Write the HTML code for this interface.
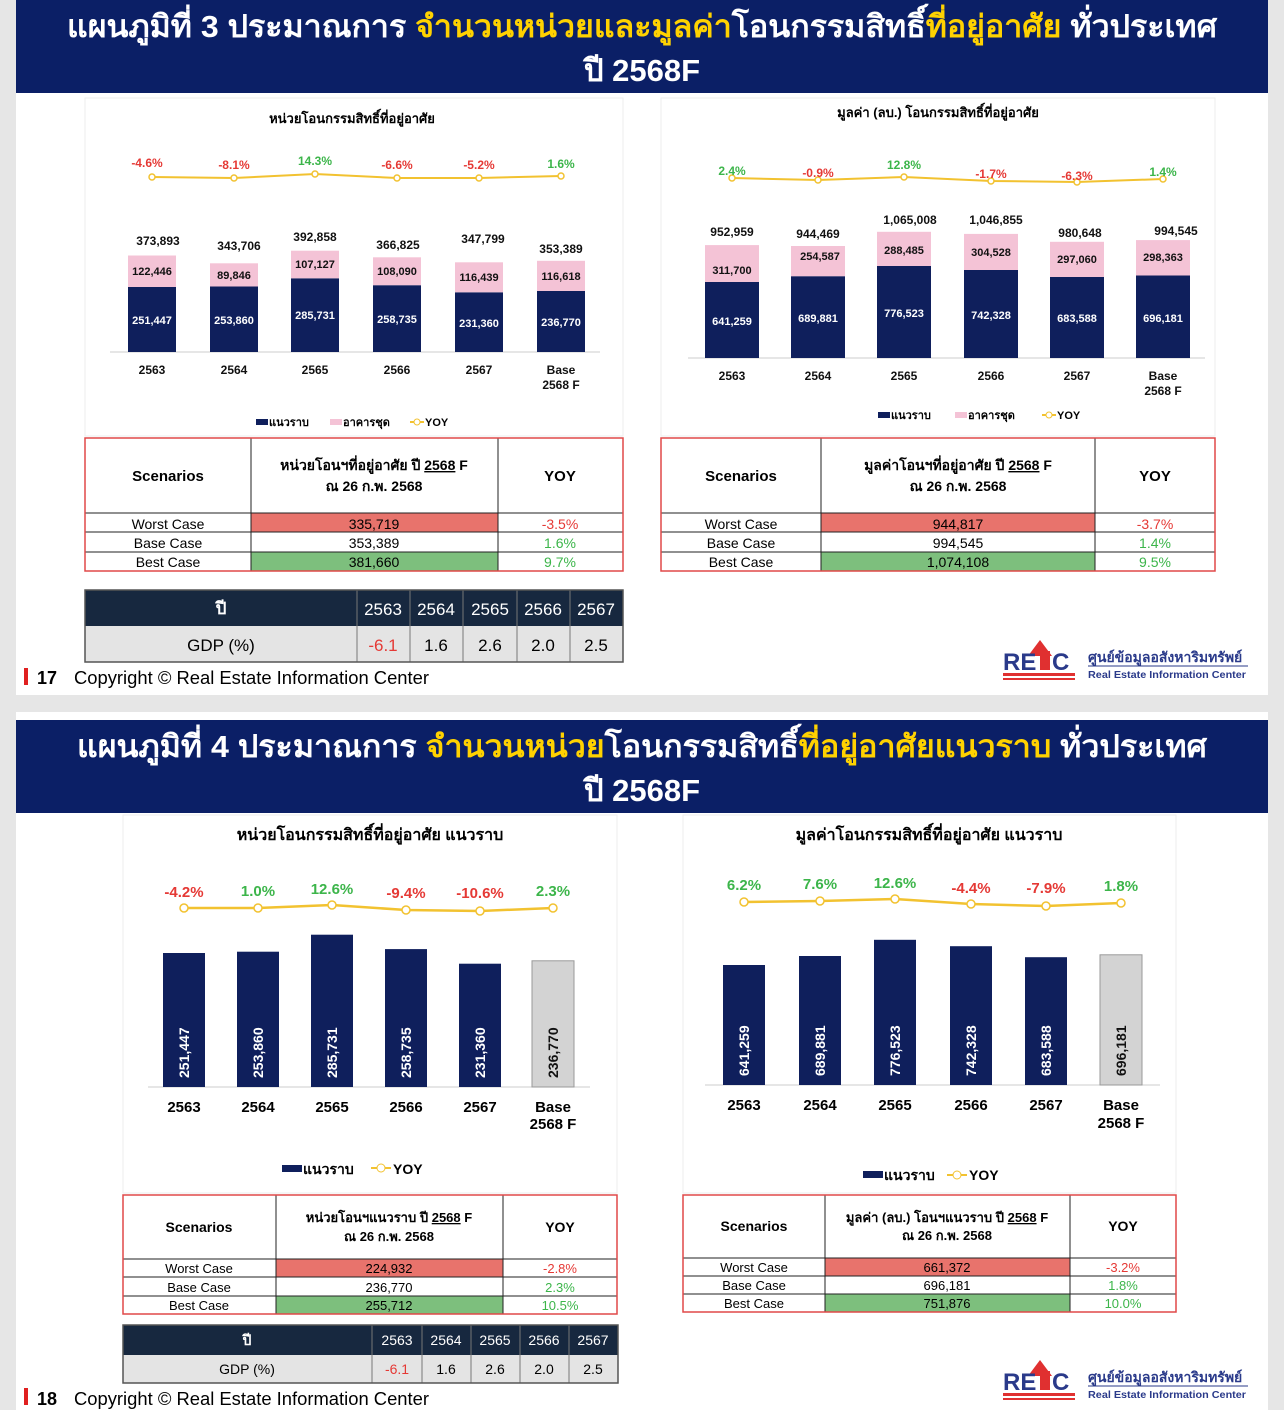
<!DOCTYPE html>
<html><head><meta charset="utf-8"><style>
body{margin:0;background:#e6e6e6;}
svg{display:block;font-family:"Liberation Sans","DejaVu Sans",sans-serif;}
.b{font-weight:bold}
</style></head><body>
<svg width="1284" height="1410" viewBox="0 0 1284 1410" xmlns="http://www.w3.org/2000/svg">
<rect width="1284" height="1410" fill="#e6e6e6"/>
<!-- SLIDE 1 -->
<rect x="16" y="0" width="1252" height="695" fill="#fff"/>
<rect x="16" y="0" width="1252" height="93" fill="#0b1f66"/>
<text x="642" y="37" text-anchor="middle" font-size="31" class="b" fill="#fff" textLength="1150" lengthAdjust="spacingAndGlyphs">แผนภูมิที่ 3 ประมาณการ <tspan fill="#ffd200">จำนวนหน่วยและมูลค่า</tspan>โอนกรรมสิทธิ์<tspan fill="#ffd200">ที่อยู่อาศัย</tspan> ทั่วประเทศ</text>
<text x="642" y="81" text-anchor="middle" font-size="31" class="b" fill="#fff">ปี 2568F</text>
<rect x="85" y="98" width="538" height="338" fill="#fff" stroke="#eee"/>
<rect x="661" y="98" width="554" height="338" fill="#fff" stroke="#eee"/>
<text x="352" y="123" text-anchor="middle" font-size="13" class="b">หน่วยโอนกรรมสิทธิ์ที่อยู่อาศัย</text>
<text x="938" y="117" text-anchor="middle" font-size="13" class="b">มูลค่า (ลบ.) โอนกรรมสิทธิ์ที่อยู่อาศัย</text>
<!-- chart1 -->
<g font-size="11" class="b" text-anchor="middle">
<line x1="110" y1="352" x2="600" y2="352" stroke="#ccc"/>
<g fill="#0f1f5c"><rect x="128" y="287" width="48" height="65"/><rect x="210" y="286.5" width="48" height="65.5"/><rect x="291" y="278.3" width="48" height="73.7"/><rect x="373" y="285.2" width="48" height="66.8"/><rect x="455" y="292.3" width="48" height="59.7"/><rect x="537" y="291" width="48" height="61"/></g>
<g fill="#f4c3d6"><rect x="128" y="255.5" width="48" height="31.5"/><rect x="210" y="263.3" width="48" height="23.2"/><rect x="291" y="250.7" width="48" height="27.6"/><rect x="373" y="257.3" width="48" height="27.9"/><rect x="455" y="262.3" width="48" height="30"/><rect x="537" y="260.8" width="48" height="30.2"/></g>
<g fill="#fff"><text x="152" y="324">251,447</text><text x="234" y="324">253,860</text><text x="315" y="319">285,731</text><text x="397" y="323">258,735</text><text x="479" y="327">231,360</text><text x="561" y="326">236,770</text></g>
<g fill="#111"><text x="152" y="275">122,446</text><text x="234" y="279">89,846</text><text x="315" y="268">107,127</text><text x="397" y="275">108,090</text><text x="479" y="281">116,439</text><text x="561" y="280">116,618</text>
<text x="158" y="245" font-size="12">373,893</text><text x="239" y="250" font-size="12">343,706</text><text x="315" y="241" font-size="12">392,858</text><text x="398" y="249" font-size="12">366,825</text><text x="483" y="243" font-size="12">347,799</text><text x="561" y="253" font-size="12">353,389</text>
<text x="152" y="374" font-size="12">2563</text><text x="234" y="374" font-size="12">2564</text><text x="315" y="374" font-size="12">2565</text><text x="397" y="374" font-size="12">2566</text><text x="479" y="374" font-size="12">2567</text><text x="561" y="374" font-size="12">Base</text><text x="561" y="389" font-size="12">2568 F</text></g>
<polyline points="152,177 234,178 315,174 397,178 479,178 561,176" fill="none" stroke="#f2c230" stroke-width="2"/>
<g fill="#fff" stroke="#f2c230" stroke-width="1.5"><circle cx="152" cy="177" r="3"/><circle cx="234" cy="178" r="3"/><circle cx="315" cy="174" r="3"/><circle cx="397" cy="178" r="3"/><circle cx="479" cy="178" r="3"/><circle cx="561" cy="176" r="3"/></g>
<g font-size="12"><text x="147" y="167" fill="#e53935">-4.6%</text><text x="234" y="169" fill="#e53935">-8.1%</text><text x="315" y="165" fill="#3cb54a">14.3%</text><text x="397" y="169" fill="#e53935">-6.6%</text><text x="479" y="169" fill="#e53935">-5.2%</text><text x="561" y="168" fill="#3cb54a">1.6%</text></g>
</g>
<g font-size="11" class="b"><rect x="256" y="419" width="12" height="6" fill="#0f1f5c"/><text x="269" y="426">แนวราบ</text><rect x="330" y="419" width="12" height="6" fill="#f4c3d6"/><text x="343" y="426">อาคารชุด</text><line x1="410" y1="422" x2="424" y2="422" stroke="#f2c230" stroke-width="2"/><circle cx="417" cy="422" r="3" fill="#fff" stroke="#f2c230"/><text x="425" y="426">YOY</text></g>
<!-- chart2 -->
<g font-size="11" class="b" text-anchor="middle">
<line x1="688" y1="358" x2="1205" y2="358" stroke="#ccc"/>
<g fill="#0f1f5c"><rect x="705" y="282" width="54" height="76"/><rect x="791" y="276.2" width="54" height="81.8"/><rect x="877" y="266" width="54" height="92"/><rect x="964" y="270" width="54" height="88"/><rect x="1050" y="277" width="54" height="81"/><rect x="1136" y="275.5" width="54" height="82.5"/></g>
<g fill="#f4c3d6"><rect x="705" y="245.1" width="54" height="36.9"/><rect x="791" y="246" width="54" height="30.2"/><rect x="877" y="231.8" width="54" height="34.2"/><rect x="964" y="233.9" width="54" height="36.1"/><rect x="1050" y="241.8" width="54" height="35.2"/><rect x="1136" y="240.1" width="54" height="35.4"/></g>
<g fill="#fff"><text x="732" y="325">641,259</text><text x="818" y="322">689,881</text><text x="904" y="317">776,523</text><text x="991" y="319">742,328</text><text x="1077" y="322">683,588</text><text x="1163" y="322">696,181</text></g>
<g fill="#111"><text x="732" y="274">311,700</text><text x="820" y="260">254,587</text><text x="904" y="254">288,485</text><text x="991" y="256">304,528</text><text x="1077" y="263">297,060</text><text x="1163" y="261">298,363</text>
<text x="732" y="236" font-size="12">952,959</text><text x="818" y="238" font-size="12">944,469</text><text x="910" y="224" font-size="12">1,065,008</text><text x="996" y="224" font-size="12">1,046,855</text><text x="1080" y="237" font-size="12">980,648</text><text x="1176" y="235" font-size="12">994,545</text>
<text x="732" y="380" font-size="12">2563</text><text x="818" y="380" font-size="12">2564</text><text x="904" y="380" font-size="12">2565</text><text x="991" y="380" font-size="12">2566</text><text x="1077" y="380" font-size="12">2567</text><text x="1163" y="380" font-size="12">Base</text><text x="1163" y="395" font-size="12">2568 F</text></g>
<polyline points="732,178 818,180 904,177 991,181 1077,182 1163,179" fill="none" stroke="#f2c230" stroke-width="2"/>
<g fill="#fff" stroke="#f2c230" stroke-width="1.5"><circle cx="732" cy="178" r="3"/><circle cx="818" cy="180" r="3"/><circle cx="904" cy="177" r="3"/><circle cx="991" cy="181" r="3"/><circle cx="1077" cy="182" r="3"/><circle cx="1163" cy="179" r="3"/></g>
<g font-size="12"><text x="732" y="175" fill="#3cb54a">2.4%</text><text x="818" y="177" fill="#e53935">-0.9%</text><text x="904" y="169" fill="#3cb54a">12.8%</text><text x="991" y="178" fill="#e53935">-1.7%</text><text x="1077" y="180" fill="#e53935">-6.3%</text><text x="1163" y="176" fill="#3cb54a">1.4%</text></g>
</g>
<g font-size="11" class="b"><rect x="878" y="412" width="12" height="6" fill="#0f1f5c"/><text x="891" y="419">แนวราบ</text><rect x="955" y="412" width="12" height="6" fill="#f4c3d6"/><text x="968" y="419">อาคารชุด</text><line x1="1042" y1="415" x2="1056" y2="415" stroke="#f2c230" stroke-width="2"/><circle cx="1049" cy="415" r="3" fill="#fff" stroke="#f2c230"/><text x="1057" y="419">YOY</text></g>
<!-- table1 left -->
<g font-size="14" text-anchor="middle">
<rect x="251" y="513" width="247" height="19" fill="#e8736c"/><rect x="251" y="552" width="247" height="19" fill="#7dbf7d"/>
<g stroke="#222" stroke-width="1" fill="none"><line x1="85" y1="513" x2="623" y2="513"/><line x1="85" y1="532" x2="623" y2="532"/><line x1="85" y1="552" x2="623" y2="552"/><line x1="251" y1="438" x2="251" y2="571"/><line x1="498" y1="438" x2="498" y2="571"/></g>
<rect x="85" y="438" width="538" height="133" fill="none" stroke="#e04848" stroke-width="1.5"/>
<text x="168" y="481" class="b" font-size="15">Scenarios</text><text x="374" y="470" class="b" font-size="14">หน่วยโอนฯที่อยู่อาศัย ปี <tspan text-decoration="underline">2568</tspan> F</text><text x="374" y="491" class="b" font-size="14">ณ 26 ก.พ. 2568</text><text x="560" y="481" class="b" font-size="15">YOY</text>
<text x="168" y="529">Worst Case</text><text x="374" y="529">335,719</text><text x="560" y="529" fill="#e53935">-3.5%</text>
<text x="168" y="548">Base Case</text><text x="374" y="548">353,389</text><text x="560" y="548" fill="#3cb54a">1.6%</text>
<text x="168" y="567">Best Case</text><text x="374" y="567">381,660</text><text x="560" y="567" fill="#3cb54a">9.7%</text>
</g>
<!-- table1 right -->
<g font-size="14" text-anchor="middle">
<rect x="821" y="513" width="274" height="19" fill="#e8736c"/><rect x="821" y="552" width="274" height="19" fill="#7dbf7d"/>
<g stroke="#222" fill="none"><line x1="661" y1="513" x2="1215" y2="513"/><line x1="661" y1="532" x2="1215" y2="532"/><line x1="661" y1="552" x2="1215" y2="552"/><line x1="821" y1="438" x2="821" y2="571"/><line x1="1095" y1="438" x2="1095" y2="571"/></g>
<rect x="661" y="438" width="554" height="133" fill="none" stroke="#e04848" stroke-width="1.5"/>
<text x="741" y="481" class="b" font-size="15">Scenarios</text><text x="958" y="470" class="b" font-size="14">มูลค่าโอนฯที่อยู่อาศัย ปี <tspan text-decoration="underline">2568</tspan> F</text><text x="958" y="491" class="b" font-size="14">ณ 26 ก.พ. 2568</text><text x="1155" y="481" class="b" font-size="15">YOY</text>
<text x="741" y="529">Worst Case</text><text x="958" y="529">944,817</text><text x="1155" y="529" fill="#e53935">-3.7%</text>
<text x="741" y="548">Base Case</text><text x="958" y="548">994,545</text><text x="1155" y="548" fill="#3cb54a">1.4%</text>
<text x="741" y="567">Best Case</text><text x="958" y="567">1,074,108</text><text x="1155" y="567" fill="#3cb54a">9.5%</text>
</g>
<!-- GDP1 -->
<g font-size="17" text-anchor="middle">
<rect x="85" y="590" width="538" height="36" fill="#17283f"/><rect x="85" y="626" width="538" height="36" fill="#e4e4e4"/>
<g stroke="#777" fill="none"><line x1="357" y1="590" x2="357" y2="662"/><line x1="410" y1="590" x2="410" y2="662"/><line x1="463" y1="590" x2="463" y2="662"/><line x1="517" y1="590" x2="517" y2="662"/><line x1="570" y1="590" x2="570" y2="662"/><rect x="85" y="590" width="538" height="72" stroke="#555" stroke-width="1.5"/></g>
<g fill="#fff"><text x="221" y="614" class="b">ปี</text><text x="383" y="615">2563</text><text x="436" y="615">2564</text><text x="490" y="615">2565</text><text x="543" y="615">2566</text><text x="596" y="615">2567</text></g>
<text x="221" y="651">GDP (%)</text><text x="383" y="651" fill="#e53935">-6.1</text><text x="436" y="651">1.6</text><text x="490" y="651">2.6</text><text x="543" y="651">2.0</text><text x="596" y="651">2.5</text>
</g>
<rect x="24" y="668" width="4" height="17" fill="#e02020"/>
<text x="37" y="684" font-size="18" class="b">17</text><text x="74" y="684" font-size="18" textLength="355" lengthAdjust="spacingAndGlyphs">Copyright © Real Estate Information Center</text>
<g><path d="M1028 656 L1040 640 L1052 656 Z" fill="#e03030"/><text x="1003" y="670" font-size="24" class="b" fill="#2a3a8a">RE</text><rect x="1040" y="651" width="10" height="19" fill="#e03030"/><text x="1052" y="670" font-size="24" class="b" fill="#2a3a8a">C</text><rect x="1003" y="673" width="72" height="3" fill="#e03030"/><rect x="1003" y="678" width="72" height="2" fill="#e03030"/>
<text x="1088" y="662" font-size="14" class="b" fill="#2a3a8a">ศูนย์ข้อมูลอสังหาริมทรัพย์</text><line x1="1088" y1="666" x2="1248" y2="666" stroke="#2a3a8a"/><text x="1088" y="678" font-size="10" class="b" fill="#2a3a8a" textLength="158" lengthAdjust="spacingAndGlyphs">Real Estate Information Center</text></g>

<!-- SLIDE 2 -->
<rect x="16" y="712" width="1252" height="698" fill="#fff"/>
<rect x="16" y="720" width="1252" height="93" fill="#0b1f66"/>
<text x="642" y="757" text-anchor="middle" font-size="31" class="b" fill="#fff" textLength="1130" lengthAdjust="spacingAndGlyphs">แผนภูมิที่ 4 ประมาณการ <tspan fill="#ffd200">จำนวนหน่วย</tspan>โอนกรรมสิทธิ์<tspan fill="#ffd200">ที่อยู่อาศัยแนวราบ</tspan> ทั่วประเทศ</text>
<text x="642" y="801" text-anchor="middle" font-size="31" class="b" fill="#fff">ปี 2568F</text>
<rect x="123" y="815" width="494" height="378" fill="#fff" stroke="#eee"/>
<rect x="683" y="815" width="493" height="378" fill="#fff" stroke="#eee"/>
<text x="370" y="840" text-anchor="middle" font-size="16" class="b">หน่วยโอนกรรมสิทธิ์ที่อยู่อาศัย แนวราบ</text>
<text x="929" y="840" text-anchor="middle" font-size="16" class="b">มูลค่าโอนกรรมสิทธิ์ที่อยู่อาศัย แนวราบ</text>
<g font-size="14" class="b" text-anchor="middle">
<line x1="148" y1="1087" x2="590" y2="1087" stroke="#ccc"/>
<g fill="#0f1f5c"><rect x="163" y="953" width="42" height="134"/><rect x="237" y="951.7" width="42" height="135.3"/><rect x="311" y="934.7" width="42" height="152.3"/><rect x="385" y="949.1" width="42" height="137.9"/><rect x="459" y="963.7" width="42" height="123.3"/></g>
<rect x="532" y="960.8" width="42" height="126.2" fill="#d3d3d3" stroke="#999"/>
<g fill="#fff"><text transform="translate(189,1078) rotate(-90)" text-anchor="start">251,447</text><text transform="translate(263,1078) rotate(-90)" text-anchor="start">253,860</text><text transform="translate(337,1078) rotate(-90)" text-anchor="start">285,731</text><text transform="translate(411,1078) rotate(-90)" text-anchor="start">258,735</text><text transform="translate(485,1078) rotate(-90)" text-anchor="start">231,360</text></g>
<text transform="translate(558,1078) rotate(-90)" text-anchor="start" fill="#111">236,770</text>
<g font-size="15"><text x="184" y="1112">2563</text><text x="258" y="1112">2564</text><text x="332" y="1112">2565</text><text x="406" y="1112">2566</text><text x="480" y="1112">2567</text><text x="553" y="1112">Base</text><text x="553" y="1129">2568 F</text></g>
<polyline points="184,908 258,908 332,905 406,910 480,911 553,908" fill="none" stroke="#f2c230" stroke-width="2.5"/>
<g fill="#fff" stroke="#f2c230" stroke-width="1.5"><circle cx="184" cy="908" r="4"/><circle cx="258" cy="908" r="4"/><circle cx="332" cy="905" r="4"/><circle cx="406" cy="910" r="4"/><circle cx="480" cy="911" r="4"/><circle cx="553" cy="908" r="4"/></g>
<g font-size="15"><text x="184" y="897" fill="#e53935">-4.2%</text><text x="258" y="896" fill="#3cb54a">1.0%</text><text x="332" y="894" fill="#3cb54a">12.6%</text><text x="406" y="898" fill="#e53935">-9.4%</text><text x="480" y="898" fill="#e53935">-10.6%</text><text x="553" y="896" fill="#3cb54a">2.3%</text></g>
</g>
<g font-size="14" class="b"><rect x="282" y="1165" width="20" height="7" fill="#0f1f5c"/><text x="303" y="1174">แนวราบ</text><line x1="371" y1="1168" x2="391" y2="1168" stroke="#f2c230" stroke-width="2"/><circle cx="381" cy="1168" r="4" fill="#fff" stroke="#f2c230"/><text x="393" y="1174">YOY</text></g>
<g font-size="14" class="b" text-anchor="middle">
<line x1="705" y1="1085" x2="1160" y2="1085" stroke="#ccc"/>
<g fill="#0f1f5c"><rect x="723" y="965" width="42" height="120"/><rect x="799" y="956" width="42" height="129"/><rect x="874" y="939.8" width="42" height="145.2"/><rect x="950" y="946.2" width="42" height="138.8"/><rect x="1025" y="957.2" width="42" height="127.8"/></g>
<rect x="1100" y="954.8" width="42" height="130.2" fill="#d3d3d3" stroke="#999"/>
<g fill="#fff"><text transform="translate(749,1076) rotate(-90)" text-anchor="start">641,259</text><text transform="translate(825,1076) rotate(-90)" text-anchor="start">689,881</text><text transform="translate(900,1076) rotate(-90)" text-anchor="start">776,523</text><text transform="translate(976,1076) rotate(-90)" text-anchor="start">742,328</text><text transform="translate(1051,1076) rotate(-90)" text-anchor="start">683,588</text></g>
<text transform="translate(1126,1076) rotate(-90)" text-anchor="start" fill="#111">696,181</text>
<g font-size="15"><text x="744" y="1110">2563</text><text x="820" y="1110">2564</text><text x="895" y="1110">2565</text><text x="971" y="1110">2566</text><text x="1046" y="1110">2567</text><text x="1121" y="1110">Base</text><text x="1121" y="1128">2568 F</text></g>
<polyline points="744,902 820,901 895,899 971,904 1046,906 1121,903" fill="none" stroke="#f2c230" stroke-width="2.5"/>
<g fill="#fff" stroke="#f2c230" stroke-width="1.5"><circle cx="744" cy="902" r="4"/><circle cx="820" cy="901" r="4"/><circle cx="895" cy="899" r="4"/><circle cx="971" cy="904" r="4"/><circle cx="1046" cy="906" r="4"/><circle cx="1121" cy="903" r="4"/></g>
<g font-size="15"><text x="744" y="890" fill="#3cb54a">6.2%</text><text x="820" y="889" fill="#3cb54a">7.6%</text><text x="895" y="888" fill="#3cb54a">12.6%</text><text x="971" y="893" fill="#e53935">-4.4%</text><text x="1046" y="893" fill="#e53935">-7.9%</text><text x="1121" y="891" fill="#3cb54a">1.8%</text></g>
</g>
<g font-size="14" class="b"><rect x="863" y="1171" width="20" height="7" fill="#0f1f5c"/><text x="884" y="1180">แนวราบ</text><line x1="947" y1="1175" x2="967" y2="1175" stroke="#f2c230" stroke-width="2"/><circle cx="957" cy="1175" r="4" fill="#fff" stroke="#f2c230"/><text x="969" y="1180">YOY</text></g>
<!-- table2 left -->
<g font-size="13" text-anchor="middle">
<rect x="276" y="1259" width="227" height="18" fill="#e8736c"/><rect x="276" y="1296" width="227" height="18" fill="#7dbf7d"/>
<g stroke="#222" fill="none"><line x1="123" y1="1259" x2="617" y2="1259"/><line x1="123" y1="1277" x2="617" y2="1277"/><line x1="123" y1="1296" x2="617" y2="1296"/><line x1="276" y1="1195" x2="276" y2="1314"/><line x1="503" y1="1195" x2="503" y2="1314"/></g>
<rect x="123" y="1195" width="494" height="119" fill="none" stroke="#e04848" stroke-width="1.5"/>
<text x="199" y="1232" class="b" font-size="14">Scenarios</text><text x="389" y="1222" class="b">หน่วยโอนฯแนวราบ ปี <tspan text-decoration="underline">2568</tspan> F</text><text x="389" y="1241" class="b">ณ 26 ก.พ. 2568</text><text x="560" y="1232" class="b" font-size="14">YOY</text>
<text x="199" y="1273">Worst Case</text><text x="389" y="1273">224,932</text><text x="560" y="1273" fill="#e53935">-2.8%</text>
<text x="199" y="1292">Base Case</text><text x="389" y="1292">236,770</text><text x="560" y="1292" fill="#3cb54a">2.3%</text>
<text x="199" y="1310">Best Case</text><text x="389" y="1310">255,712</text><text x="560" y="1310" fill="#3cb54a">10.5%</text>
</g>
<g font-size="13" text-anchor="middle">
<rect x="825" y="1258" width="245" height="18" fill="#e8736c"/><rect x="825" y="1294" width="245" height="18" fill="#7dbf7d"/>
<g stroke="#222" fill="none"><line x1="683" y1="1258" x2="1176" y2="1258"/><line x1="683" y1="1276" x2="1176" y2="1276"/><line x1="683" y1="1294" x2="1176" y2="1294"/><line x1="825" y1="1195" x2="825" y2="1312"/><line x1="1070" y1="1195" x2="1070" y2="1312"/></g>
<rect x="683" y="1195" width="493" height="117" fill="none" stroke="#e04848" stroke-width="1.5"/>
<text x="754" y="1231" class="b" font-size="14">Scenarios</text><text x="947" y="1222" class="b">มูลค่า (ลบ.) โอนฯแนวราบ ปี <tspan text-decoration="underline">2568</tspan> F</text><text x="947" y="1240" class="b">ณ 26 ก.พ. 2568</text><text x="1123" y="1231" class="b" font-size="14">YOY</text>
<text x="754" y="1272">Worst Case</text><text x="947" y="1272">661,372</text><text x="1123" y="1272" fill="#e53935">-3.2%</text>
<text x="754" y="1290">Base Case</text><text x="947" y="1290">696,181</text><text x="1123" y="1290" fill="#3cb54a">1.8%</text>
<text x="754" y="1308">Best Case</text><text x="947" y="1308">751,876</text><text x="1123" y="1308" fill="#3cb54a">10.0%</text>
</g>
<g font-size="14" text-anchor="middle">
<rect x="123" y="1325" width="495" height="30" fill="#17283f"/><rect x="123" y="1355" width="495" height="28" fill="#e4e4e4"/>
<g stroke="#777" fill="none"><line x1="372" y1="1325" x2="372" y2="1383"/><line x1="422" y1="1325" x2="422" y2="1383"/><line x1="471" y1="1325" x2="471" y2="1383"/><line x1="520" y1="1325" x2="520" y2="1383"/><line x1="569" y1="1325" x2="569" y2="1383"/><rect x="123" y="1325" width="495" height="58" stroke="#555" stroke-width="1.5"/></g>
<g fill="#fff"><text x="247" y="1345" class="b">ปี</text><text x="397" y="1345">2563</text><text x="446" y="1345">2564</text><text x="495" y="1345">2565</text><text x="544" y="1345">2566</text><text x="593" y="1345">2567</text></g>
<text x="247" y="1374">GDP (%)</text><text x="397" y="1374" fill="#e53935">-6.1</text><text x="446" y="1374">1.6</text><text x="495" y="1374">2.6</text><text x="544" y="1374">2.0</text><text x="593" y="1374">2.5</text>
</g>
<rect x="24" y="1388" width="4" height="17" fill="#e02020"/>
<text x="37" y="1405" font-size="18" class="b">18</text><text x="74" y="1405" font-size="18" textLength="355" lengthAdjust="spacingAndGlyphs">Copyright © Real Estate Information Center</text>
<g><path d="M1028 1376 L1040 1360 L1052 1376 Z" fill="#e03030"/><text x="1003" y="1390" font-size="24" class="b" fill="#2a3a8a">RE</text><rect x="1040" y="1371" width="10" height="19" fill="#e03030"/><text x="1052" y="1390" font-size="24" class="b" fill="#2a3a8a">C</text><rect x="1003" y="1393" width="72" height="3" fill="#e03030"/><rect x="1003" y="1398" width="72" height="2" fill="#e03030"/>
<text x="1088" y="1382" font-size="14" class="b" fill="#2a3a8a">ศูนย์ข้อมูลอสังหาริมทรัพย์</text><line x1="1088" y1="1386" x2="1248" y2="1386" stroke="#2a3a8a"/><text x="1088" y="1398" font-size="10" class="b" fill="#2a3a8a" textLength="158" lengthAdjust="spacingAndGlyphs">Real Estate Information Center</text></g>
</svg>
</body></html>
